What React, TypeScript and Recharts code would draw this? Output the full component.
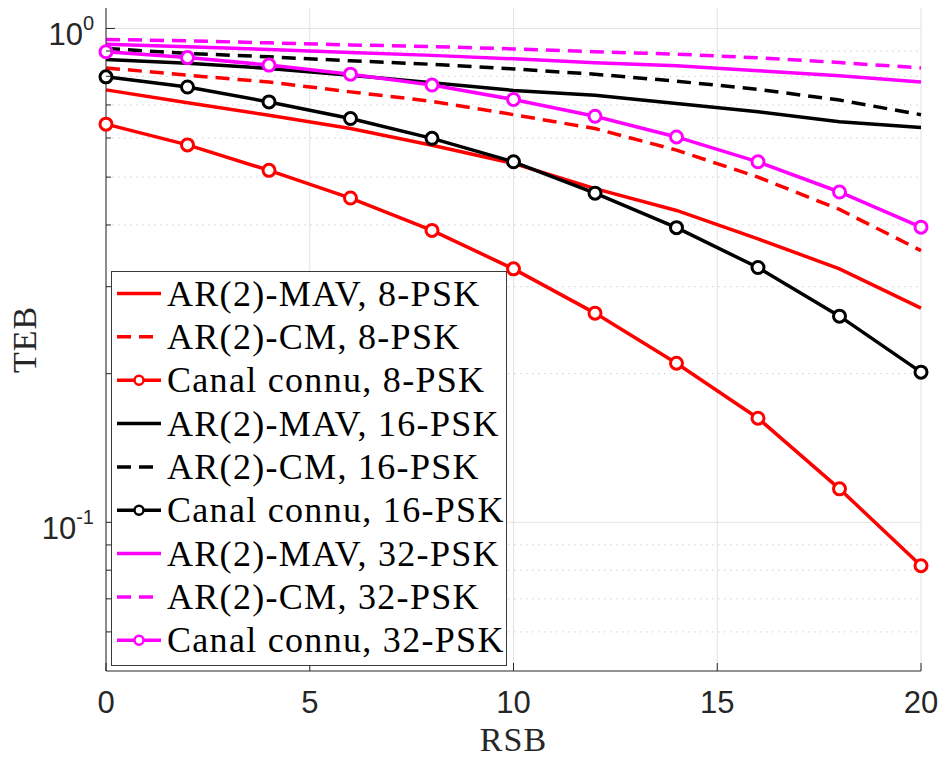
import React from 'react';
import { LineChart, Line, XAxis, YAxis, CartesianGrid, Legend } from 'recharts';

// ---- data ----
const snr = [0, 2, 4, 6, 8, 10, 12, 14, 16, 18, 20];
const mav8 = [0.751, 0.707, 0.667, 0.627, 0.58, 0.533, 0.474, 0.428, 0.375, 0.326, 0.2715];
const cm8 = [0.832, 0.804, 0.779, 0.744, 0.712, 0.669, 0.627, 0.567, 0.5, 0.43, 0.355];
const known8 = [0.64, 0.581, 0.516, 0.4535, 0.39, 0.326, 0.2652, 0.21, 0.1625, 0.1169, 0.0817];
const mav16 = [0.865, 0.85, 0.83, 0.804, 0.776, 0.749, 0.732, 0.705, 0.678, 0.647, 0.63];
const cm16 = [0.911, 0.89, 0.876, 0.86, 0.846, 0.828, 0.808, 0.782, 0.753, 0.716, 0.669];
const known16 = [0.798, 0.761, 0.71, 0.657, 0.599, 0.537, 0.464, 0.395, 0.328, 0.2615, 0.2014];
const mav32 = [0.929, 0.918, 0.907, 0.894, 0.882, 0.868, 0.852, 0.84, 0.821, 0.802, 0.779];
const cm32 = [0.95, 0.944, 0.935, 0.926, 0.919, 0.909, 0.897, 0.887, 0.872, 0.853, 0.832];
const known32 = [0.897, 0.873, 0.843, 0.808, 0.768, 0.718, 0.664, 0.603, 0.537, 0.4665, 0.396];

const seriesNames = [
  'AR(2)-MAV, 8-PSK',
  'AR(2)-CM, 8-PSK',
  'Canal connu, 8-PSK',
  'AR(2)-MAV, 16-PSK',
  'AR(2)-CM, 16-PSK',
  'Canal connu, 16-PSK',
  'AR(2)-MAV, 32-PSK',
  'AR(2)-CM, 32-PSK',
  'Canal connu, 32-PSK',
];
const seriesKeys = ['mav8', 'cm8', 'known8', 'mav16', 'cm16', 'known16', 'mav32', 'cm32', 'known32'];
const seriesValues = [mav8, cm8, known8, mav16, cm16, known16, mav32, cm32, known32];

const xTicks = [0, 5, 10, 15, 20];
const yMajorTicks = [0.1, 1];
const yMinorTicks = [0.06, 0.07, 0.08, 0.09, 0.2, 0.3, 0.4, 0.5, 0.6, 0.7, 0.8, 0.9];
const yAllTicks = [...yMinorTicks, ...yMajorTicks].sort((a, b) => a - b);
const xLabel = 'RSB';
const yLabel = 'TEB';

// ---- styles ----
const RED = '#ff0000';
const BLACK = '#000000';
const MAGENTA = '#ff00ff';
const styleOf = (i: number) => {
  const color = i < 3 ? RED : i < 6 ? BLACK : MAGENTA;
  const kind = i % 3; // 0 solid, 1 dashed, 2 markers
  return { color, dashed: kind === 1, marker: kind === 2 };
};
const AXIS = '#262626';
const TICK_FONT = '"Liberation Sans", Arial, Helvetica, sans-serif';
const SERIF = '"Liberation Serif", "Times New Roman", serif';

const rows = snr.map((x, i) => {
  const r: Record<string, number> = { x };
  seriesKeys.forEach((k, j) => {
    r[k] = seriesValues[j][i];
  });
  return r;
});

const XTick = (props: any) => {
  const { x, y, payload } = props;
  return (
    <g>
      <line x1={x} y1={y} x2={x} y2={y - 8} stroke={AXIS} strokeWidth={1} />
      <text
        x={x}
        y={y + 42}
        textAnchor="middle"
        fontFamily={TICK_FONT}
        fontSize={31}
        fill={AXIS}
      >
        {payload.value}
      </text>
    </g>
  );
};

const YTick = (props: any) => {
  const { x, y, payload } = props;
  const v = payload.value as number;
  const major = yMajorTicks.includes(v);
  const exp = Math.round(Math.log10(v));
  return (
    <g>
      <line x1={x} y1={y} x2={x + (major ? 9 : 5)} y2={y} stroke={AXIS} strokeWidth={1} />
      {major && (
        <text
          x={x - 12}
          y={y + 16.5}
          textAnchor="end"
          fontFamily={TICK_FONT}
          fontSize={31}
          fill={AXIS}
        >
          <tspan>10</tspan>
          <tspan dy={-15} fontSize={20}>
            {String(exp)}
          </tspan>
        </text>
      )}
    </g>
  );
};

const LEG_W = 396;
const LEG_H = 395;
const ROW0 = 22.5;
const ROW_STEP = 43.35;

const LegendBox = () => (
  <svg width={LEG_W} height={LEG_H} style={{ display: 'block' }}>
    <rect x={0.5} y={0.5} width={LEG_W - 1} height={LEG_H - 1} fill="#ffffff" stroke="#3a3a3a" strokeWidth={1} />
    {seriesNames.map((name, i) => {
      const s = styleOf(i);
      const cy = ROW0 + i * ROW_STEP;
      return (
        <g key={name}>
          <line
            x1={6}
            y1={cy}
            x2={50}
            y2={cy}
            stroke={s.color}
            strokeWidth={3.5}
            strokeDasharray={s.dashed ? '14 8' : undefined}
          />
          {s.marker && <circle cx={28} cy={cy} r={4.5} fill="#ffffff" stroke={s.color} strokeWidth={2.5} />}
          <text
            x={56}
            y={cy}
            dominantBaseline="central"
            fontFamily={SERIF}
            fontSize={36}
            letterSpacing={1.3}
            fill="#000000"
          >
            {name}
          </text>
        </g>
      );
    })}
  </svg>
);

export default function App() {
  return (
    <div style={{ position: 'absolute', left: 0, top: 0, background: '#ffffff' }}>
      <LineChart
        width={939}
        height={758}
        data={rows}
        margin={{ top: 8, right: 18, bottom: 27, left: 0 }}
      >
        <CartesianGrid
          vertical={false}
          horizontalValues={yMinorTicks}
          stroke="#cfcfcf"
          strokeDasharray="1.5 4.5"
        />
        <CartesianGrid horizontalValues={yMajorTicks} verticalValues={xTicks} stroke="#e2e2e2" />
        <XAxis
          dataKey="x"
          type="number"
          domain={[0, 20]}
          ticks={xTicks}
          height={60}
          tickSize={0}
          tickMargin={0}
          tickLine={false}
          axisLine={{ stroke: AXIS, strokeWidth: 1 }}
          tick={<XTick />}
          interval={0}
          label={{
            content: (p: any) => {
              const vb = p.viewBox || { x: 106, y: 671, width: 815, height: 60 };
              return (
                <text
                  x={vb.x + vb.width / 2}
                  y={751}
                  textAnchor="middle"
                  fontFamily={SERIF}
                  fontSize={34}
                  letterSpacing={1}
                  fill={AXIS}
                >
                  {xLabel}
                </text>
              );
            },
          }}
        />
        <YAxis
          type="number"
          scale="log"
          domain={[0.05, 1.1]}
          allowDataOverflow
          ticks={yAllTicks}
          interval={0}
          width={106}
          tickSize={0}
          tickMargin={0}
          tickLine={false}
          axisLine={{ stroke: AXIS, strokeWidth: 1 }}
          tick={<YTick />}
          label={{
            content: (p: any) => {
              const vb = p.viewBox || { x: 0, y: 8, width: 106, height: 663 };
              const cx = 24;
              const cy = vb.y + vb.height / 2;
              return (
                <text
                  x={cx}
                  y={cy}
                  transform={`rotate(-90, ${cx}, ${cy})`}
                  textAnchor="middle"
                  dominantBaseline="central"
                  fontFamily={SERIF}
                  fontSize={34}
                  letterSpacing={1}
                  fill={AXIS}
                >
                  {yLabel}
                </text>
              );
            },
          }}
        />
        {seriesKeys.map((k, i) => {
          const s = styleOf(i);
          return (
            <Line
              key={k}
              dataKey={k}
              name={seriesNames[i]}
              type="linear"
              stroke={s.color}
              strokeWidth={3.5}
              strokeDasharray={s.dashed ? '14 8' : undefined}
              dot={s.marker ? { r: 6, stroke: s.color, strokeWidth: 3, fill: '#ffffff' } : false}
              activeDot={false}
              isAnimationActive={false}
            />
          );
        })}
        <Legend
          layout="horizontal"
          verticalAlign="middle"
          align="center"
          content={() => <LegendBox />}
          wrapperStyle={{ left: 111, top: 271, width: LEG_W, height: LEG_H, margin: 0, padding: 0 }}
        />
      </LineChart>
    </div>
  );
}
